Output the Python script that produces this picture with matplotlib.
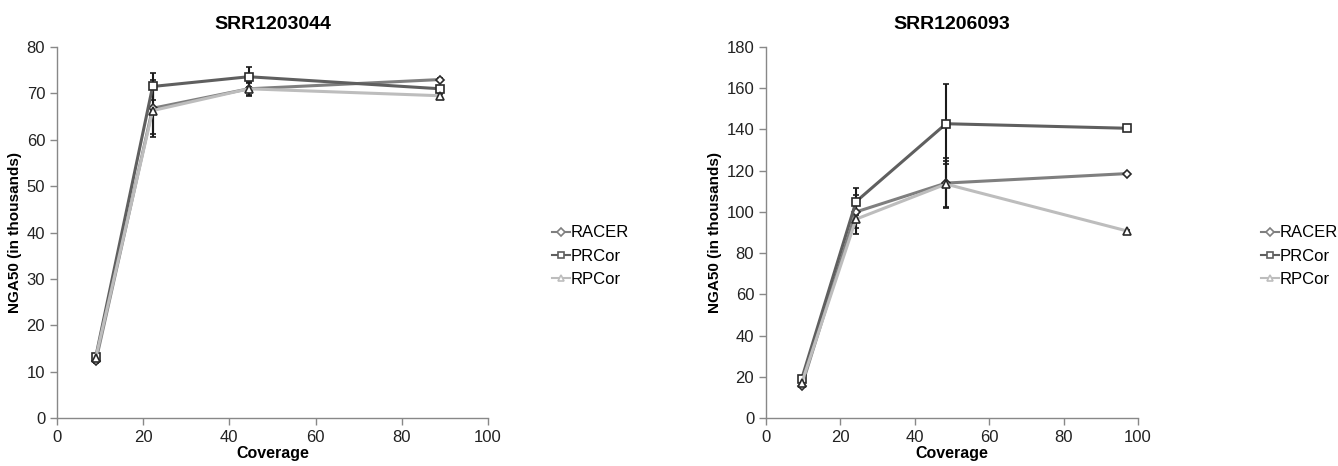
import matplotlib
matplotlib.use("Agg")
import matplotlib.pyplot as plt

plt.rcParams['font.family'] = ['Liberation Sans', 'DejaVu Sans']

series = ["RACER", "PRCor", "RPCor"]
markers = ["D", "s", "^"]
colors = ["#7f7f7f", "#5f5f5f", "#bdbdbd"]

# SRR1203044
cov_a = [9, 22.2, 44.5, 89]
racer_a = [12.2, 66.8, 71.0, 73.0]
prcor_a = [13.2, 71.5, 73.6, 71.0]
rpcor_a = [13.0, 66.3, 71.0, 69.5]
racer_a_err = [0.3, 6.1, 1.5, 0.3]
prcor_a_err = [0.3, 2.9, 2.2, 0.3]
rpcor_a_err = [0.3, 5.0, 1.3, 0.3]

# SRR1206093
cov_b = [9.6, 24.2, 48.4, 97]
racer_b = [15.5, 100.0, 114.0, 118.6]
prcor_b = [19.0, 105.0, 142.8, 140.6]
rpcor_b = [17.0, 96.5, 113.5, 90.8]
racer_b_err = [0.5, 8.0, 12.0, 0.5]
prcor_b_err = [0.5, 6.5, 19.5, 0.5]
rpcor_b_err = [0.5, 7.0, 11.0, 0.5]

panels = [
    ("SRR1203044", cov_a, [racer_a, prcor_a, rpcor_a],
     [racer_a_err, prcor_a_err, rpcor_a_err], 80, 10,
     [0.0426, 0.103, 0.322, 0.796], (0.4125, 0.45)),
    ("SRR1206093", cov_b, [racer_b, prcor_b, rpcor_b],
     [racer_b_err, prcor_b_err, rpcor_b_err], 180, 20,
     [0.5725, 0.103, 0.278, 0.796], (0.9425, 0.45)),
]

fig = plt.figure(figsize=(13.38, 4.66), dpi=100)

for title, cov, ys, errs, ymax, ystep, rect, leg_pos in panels:
    ax = fig.add_axes(rect)
    handles = []
    for name, y, e, m, c in zip(series, ys, errs, markers, colors):
        ax.errorbar(cov, y, yerr=e, fmt='none', ecolor='#1a1a1a',
                    elinewidth=1.5, capsize=2, capthick=1.2, zorder=2)
        ms = 4.5 if m == "D" else 5.5
        ax.plot(cov, y, color=c, lw=2.2, marker=m, ms=ms,
                mfc='white', mec='#2a2a2a', mew=1.2, zorder=3)
        h, = ax.plot([], [], color=c, lw=1.5, marker=m, ms=ms - 0.5,
                     mfc='white', mec=c, mew=1.2, label=name)
        handles.append(h)
    ax.set_xlim(0, 100)
    ax.set_ylim(0, ymax)
    ax.set_xticks(range(0, 101, 20))
    ax.set_yticks(range(0, ymax + 1, ystep))
    ax.set_title(title, fontsize=14, fontweight='bold', pad=13)
    ax.set_xlabel("Coverage", fontsize=11.5, fontweight='bold', labelpad=1)
    ax.set_ylabel("NGA50 (in thousands)", fontsize=11, fontweight='bold', labelpad=3)
    for s in ["top", "right"]:
        ax.spines[s].set_visible(False)
    for s in ["left", "bottom"]:
        ax.spines[s].set_color('#888888')
        ax.spines[s].set_linewidth(1.0)
    ax.tick_params(colors='#888888', labelcolor='#222222', labelsize=12,
                   length=5, width=1.0, direction='out')
    fig.legend(handles=handles, loc='center left', bbox_to_anchor=leg_pos,
               frameon=False, fontsize=12, handlelength=1.1,
               handletextpad=0.0, labelspacing=0.5, borderaxespad=0,
               borderpad=0)

fig.savefig("out.png", dpi=100)
